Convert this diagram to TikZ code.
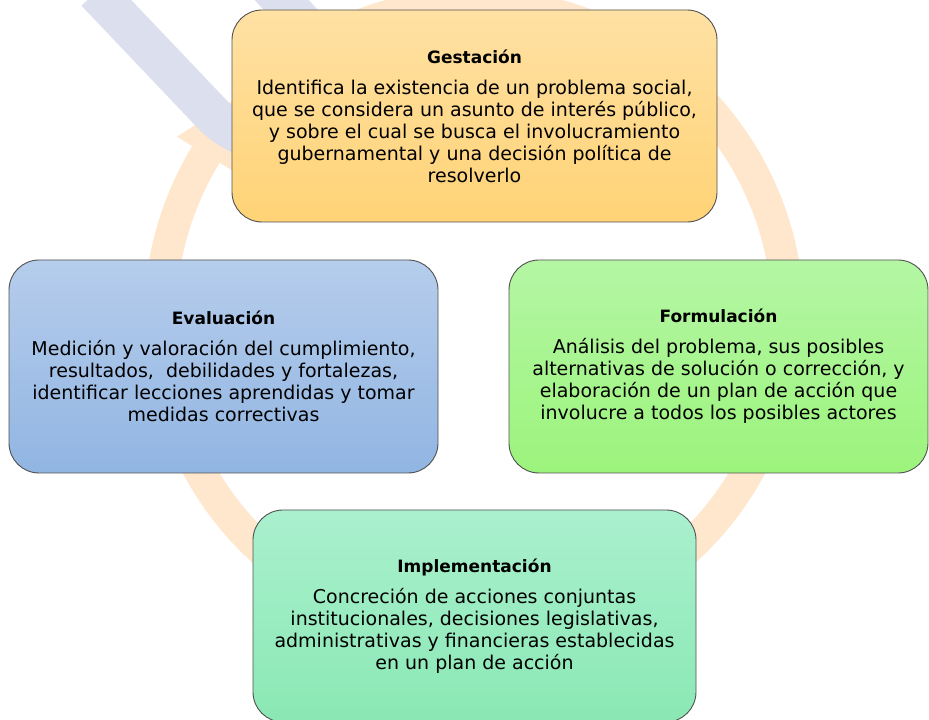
\documentclass[tikz,border=0pt]{standalone}
\usepackage{fontspec}
\setmainfont{DejaVu Sans}
\usepackage{tikz}
\usetikzlibrary{positioning}
\definecolor{gestTop}{RGB}{255,225,164}
\definecolor{gestBot}{RGB}{255,211,118}
\definecolor{evalTop}{RGB}{182,205,236}
\definecolor{evalBot}{RGB}{145,181,226}
\definecolor{formTop}{RGB}{180,246,164}
\definecolor{formBot}{RGB}{156,244,124}
\definecolor{implTop}{RGB}{170,240,206}
\definecolor{implBot}{RGB}{138,232,180}
\definecolor{ringPeach}{RGB}{255,231,206}
\definecolor{markBlue}{RGB}{220,224,238}
\definecolor{frameGrey}{RGB}{80,80,80}

\newcommand{\etapa}[2]{{\fontsize{17}{22}\selectfont\bfseries #1}\\[9pt]#2}

\begin{document}
\begin{tikzpicture}[x=1pt,y=1pt,
    etapabox/.style={draw=frameGrey,line width=0.9pt,rounded corners=30pt,
      align=center,inner sep=0pt,
      font=\fontsize{19}{22}\selectfont},
    ringline/.style={ringPeach,line width=32pt}]
  \path[use as bounding box,clip] (0,0) rectangle (929,720);
  \fill[white] (0,0) rectangle (929,720);
  % background cycle ring with its arrow head
  \begin{scope}[shift={(474,402)}]
    \draw[ringline] (120:314pt) arc[start angle=120,end angle=-211.4,radius=314pt];
    \fill[ringPeach] (148.6:280pt) -- (148.6:348pt) -- (127:314pt) -- cycle;
  \end{scope}
  % faint watermark letter
  \draw[markBlue,line width=40pt,line join=round]
    (96,728) -- (212,606) .. controls (255,560) and (325,580) .. (350,645)
    -- (268,735);
  % the four stages
  \node[etapabox,top color=gestTop,bottom color=gestBot,
        minimum width=485pt,minimum height=212pt] (gest) at (474.5,604)
    {\etapa{Gestación}{Identifica la existencia de un problema social,\\
     que se considera un asunto de interés público,\\
     y sobre el cual se busca el involucramiento\\
     gubernamental y una decisión política de\\
     resolverlo}};
  \node[etapabox,top color=formTop,bottom color=formBot,
        minimum width=419pt,minimum height=213pt] (form) at (718.5,353.5)
    {\etapa{Formulación}{Análisis del problema, sus posibles\\
     alternativas de solución o corrección, y\\
     elaboración de un plan de acción que\\
     involucre a todos los posibles actores}};
  \node[etapabox,top color=implTop,bottom color=implBot,
        minimum width=443pt,minimum height=212pt] (impl) at (474.5,104)
    {\etapa{Implementación}{Concreción de acciones conjuntas\\
     institucionales, decisiones legislativas,\\
     administrativas y financieras establecidas\\
     en un plan de acción}};
  \node[etapabox,top color=evalTop,bottom color=evalBot,
        minimum width=429pt,minimum height=213pt] (eval) at (223.5,353.5)
    {\etapa{Evaluación}{Medición y valoración del cumplimiento,\\
     resultados,\ \ debilidades y fortalezas,\\
     identificar lecciones aprendidas y tomar\\
     medidas correctivas}};
\end{tikzpicture}
\end{document}
